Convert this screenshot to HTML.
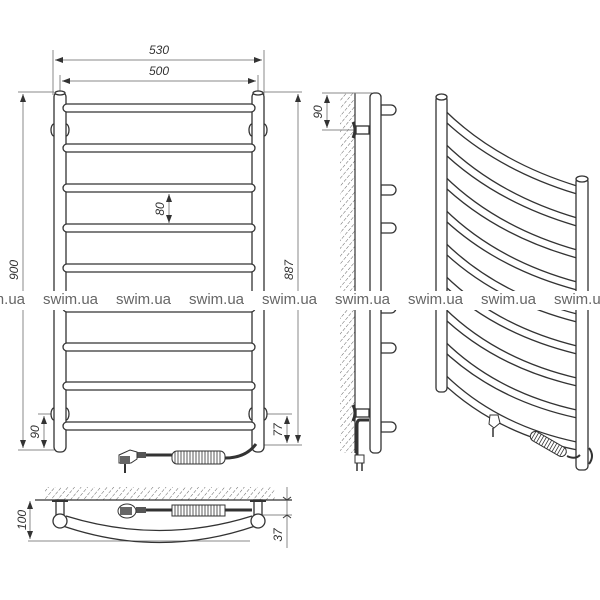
<!DOCTYPE html>
<html><head><meta charset="utf-8"><style>
html,body{margin:0;padding:0;background:#fff;}
svg{display:block;}
text{font-family:"Liberation Sans",sans-serif;}
.d{stroke:#888;stroke-width:1;fill:none;}
.dt{font-size:12px;fill:#333;font-style:italic;}
.o{stroke:#333;stroke-width:1.3;fill:#fff;}
.w{font-size:15px;fill:#666;}
</style></head><body>
<svg width="600" height="600" viewBox="0 0 600 600" xmlns="http://www.w3.org/2000/svg">
<defs>
<marker id="a" markerWidth="8" markerHeight="6" refX="8" refY="3" orient="auto-start-reverse" markerUnits="userSpaceOnUse"><path d="M0,0 L8,3 L0,6z" fill="#333"/></marker>
<pattern id="h" width="5" height="5" patternUnits="userSpaceOnUse" patternTransform="rotate(40)"><line x1="0" y1="0" x2="0" y2="5" stroke="#666" stroke-width="1" stroke-dasharray="3,1.5"/></pattern>
</defs>

<!-- FRONT VIEW -->
<line class="d" x1="53" y1="50" x2="53" y2="95"/><line class="d" x1="264" y1="50" x2="264" y2="95"/>
<line class="d" x1="55" y1="60" x2="262" y2="60" marker-start="url(#a)" marker-end="url(#a)"/>
<text class="dt" x="159" y="54" text-anchor="middle">530</text>
<line class="d" x1="60" y1="75" x2="60" y2="95"/><line class="d" x1="258" y1="75" x2="258" y2="95"/>
<line class="d" x1="62" y1="81" x2="256" y2="81" marker-start="url(#a)" marker-end="url(#a)"/>
<text class="dt" x="159" y="75" text-anchor="middle">500</text>
<line class="d" x1="18" y1="92" x2="54" y2="92"/><line class="d" x1="18" y1="450" x2="54" y2="450"/>
<line class="d" x1="23" y1="94" x2="23" y2="448" marker-start="url(#a)" marker-end="url(#a)"/>
<text class="dt" transform="translate(18,270) rotate(-90)" text-anchor="middle">900</text>
<line class="d" x1="264" y1="92" x2="302" y2="92"/><line class="d" x1="264" y1="445" x2="302" y2="445"/>
<line class="d" x1="298" y1="94" x2="298" y2="443" marker-start="url(#a)" marker-end="url(#a)"/>
<text class="dt" transform="translate(293,270) rotate(-90)" text-anchor="middle">887</text>
<line class="d" x1="38" y1="414" x2="54" y2="414"/>
<line class="d" x1="44" y1="416" x2="44" y2="448" marker-start="url(#a)" marker-end="url(#a)"/>
<text class="dt" transform="translate(39,432) rotate(-90)" text-anchor="middle">90</text>
<line class="d" x1="264" y1="414" x2="292" y2="414"/>
<line class="d" x1="287" y1="416" x2="287" y2="443" marker-start="url(#a)" marker-end="url(#a)"/>
<text class="dt" transform="translate(282,430) rotate(-90)" text-anchor="middle">77</text>
<line class="d" x1="169" y1="194" x2="169" y2="223" marker-start="url(#a)" marker-end="url(#a)" stroke="#333"/>
<text class="dt" transform="translate(164,209) rotate(-90)" text-anchor="middle">80</text>
<ellipse class="o" cx="54" cy="130" rx="3" ry="6"/><ellipse class="o" cx="66" cy="130" rx="3" ry="6"/>
<ellipse class="o" cx="252" cy="130" rx="3" ry="6"/><ellipse class="o" cx="264" cy="130" rx="3" ry="6"/>
<ellipse class="o" cx="54" cy="414" rx="3" ry="6"/><ellipse class="o" cx="66" cy="414" rx="3" ry="6"/>
<ellipse class="o" cx="252" cy="414" rx="3" ry="6"/><ellipse class="o" cx="264" cy="414" rx="3" ry="6"/>
<rect class="o" x="54" y="92" width="12" height="360" rx="5"/>
<rect class="o" x="252" y="92" width="12" height="360" rx="5"/>
<ellipse class="o" cx="60" cy="93" rx="5" ry="2"/><ellipse class="o" cx="258" cy="93" rx="5" ry="2"/>
<g class="o">
<rect x="63" y="104" width="192" height="8" rx="4"/>
<rect x="63" y="144" width="192" height="8" rx="4"/>
<rect x="63" y="184" width="192" height="8" rx="4"/>
<rect x="63" y="224" width="192" height="8" rx="4"/>
<rect x="63" y="264" width="192" height="8" rx="4"/>
<rect x="63" y="304" width="192" height="8" rx="4"/>
<rect x="63" y="343" width="192" height="8" rx="4"/>
<rect x="63" y="382" width="192" height="8" rx="4"/>
<rect x="63" y="422" width="192" height="8" rx="4"/>
</g>
<path d="M145,455 L172,455" stroke="#333" stroke-width="3" fill="none"/>
<path d="M225,458 C240,458 250,452 256,444" stroke="#333" stroke-width="3" fill="none"/>
<rect x="172" y="451" width="53" height="13" rx="5" fill="#fff" stroke="#333"/>
<path d="M175,451 l0,13 M178,451 l0,13 M181,451 l0,13 M184,451 l0,13 M187,451 l0,13 M190,451 l0,13 M193,451 l0,13 M196,451 l0,13 M199,451 l0,13 M202,451 l0,13 M205,451 l0,13 M208,451 l0,13 M211,451 l0,13 M214,451 l0,13 M217,451 l0,13 M220,451 l0,13" stroke="#333" stroke-width="0.8"/>
<rect x="136" y="452" width="10" height="6" fill="#555"/>
<path d="M119,455 L130,450 L137,452 L137,459 L131,463 L119,463z" fill="#fff" stroke="#333"/>
<rect x="120" y="456" width="10" height="8" fill="#666"/>
<line x1="125" y1="464" x2="125" y2="473" stroke="#333" stroke-width="2"/>

<!-- BOTTOM VIEW -->
<rect x="45" y="487" width="230" height="13" fill="url(#h)"/>
<line x1="35" y1="500" x2="292" y2="500" stroke="#333" stroke-width="1.2"/>
<line class="d" x1="30" y1="501" x2="30" y2="539" marker-start="url(#a)" marker-end="url(#a)"/>
<line class="d" x1="28" y1="541" x2="250" y2="541"/>
<text class="dt" transform="translate(26,520) rotate(-90)" text-anchor="middle">100</text>
<line class="d" x1="287" y1="487" x2="287" y2="548"/>
<line class="d" x1="262" y1="515" x2="292" y2="515"/>
<path d="M283,497 l4,3 l4,-3 M283,518 l4,-3 l4,3" stroke="#333" fill="none"/>
<text class="dt" transform="translate(282,535) rotate(-90)" text-anchor="middle">37</text>
<path d="M60,525 Q160,560 258,525" stroke="#333" stroke-width="1.3" fill="none"/>
<path d="M66,516 Q160,545 252,516" stroke="#333" stroke-width="1.3" fill="none"/>
<rect class="o" x="56" y="500" width="8" height="15"/><rect class="o" x="254" y="500" width="8" height="15"/>
<line x1="52" y1="501" x2="68" y2="501" stroke="#333" stroke-width="2"/><line x1="250" y1="501" x2="266" y2="501" stroke="#333" stroke-width="2"/>
<circle class="o" cx="60" cy="521" r="7"/><circle class="o" cx="258" cy="521" r="7"/>
<path d="M145,510 L252,510" stroke="#333" stroke-width="3" fill="none"/>
<rect x="172" y="505" width="53" height="11" fill="#fff" stroke="#333"/>
<path d="M175,505 l0,11 M178,505 l0,11 M181,505 l0,11 M184,505 l0,11 M187,505 l0,11 M190,505 l0,11 M193,505 l0,11 M196,505 l0,11 M199,505 l0,11 M202,505 l0,11 M205,505 l0,11 M208,505 l0,11 M211,505 l0,11 M214,505 l0,11 M217,505 l0,11 M220,505 l0,11" stroke="#333" stroke-width="0.8"/>
<rect x="136" y="507" width="10" height="6" fill="#555"/>
<ellipse cx="127" cy="511" rx="9" ry="7" fill="#fff" stroke="#333"/>
<rect x="120" y="507" width="12" height="8" fill="#666"/>

<!-- SIDE VIEW -->
<rect x="340" y="93" width="15" height="360" fill="url(#h)"/>
<line x1="355" y1="93" x2="355" y2="453" stroke="#333" stroke-width="1.2"/>
<line class="d" x1="322" y1="93" x2="372" y2="93"/><line class="d" x1="322" y1="130" x2="356" y2="130"/>
<line class="d" x1="327" y1="95" x2="327" y2="128" marker-start="url(#a)" marker-end="url(#a)"/>
<text class="dt" transform="translate(322,112) rotate(-90)" text-anchor="middle">90</text>
<g class="o">
<path d="M381,105 L391,105 A5,5 0 0 1 391,115 L381,115z"/>
<path d="M381,185 L391,185 A5,5 0 0 1 391,195 L381,195z"/>
<path d="M381,223 L391,223 A5,5 0 0 1 391,233 L381,233z"/>
<path d="M381,303 L391,303 A5,5 0 0 1 391,313 L381,313z"/>
<path d="M381,343 L391,343 A5,5 0 0 1 391,353 L381,353z"/>
<path d="M381,422 L391,422 A5,5 0 0 1 391,432 L381,432z"/>
<rect x="356" y="126" width="13" height="8"/>
<rect x="356" y="409" width="13" height="8"/>
<rect x="370" y="93" width="11" height="360" rx="4"/>
</g>
<path d="M353,122 q4,8 0,16 M353,405 q4,8 0,16" stroke="#333" stroke-width="3" fill="none"/>
<path d="M369,420 L360,420 Q357,420 357,425 L357,455" stroke="#333" stroke-width="3" fill="none"/>
<path d="M355,455 l9,0 l0,8 l-9,0z" fill="#fff" stroke="#333"/>
<path d="M357,463 l0,8 M362,463 l0,8" stroke="#333" stroke-width="1.5"/>

<!-- PERSPECTIVE VIEW -->
<g fill="none" stroke-linecap="round">
<g stroke="#333" stroke-width="9">
<path d="M442,113 Q495,165 577,190"/>
<path d="M442,146 Q495,198 577,222"/>
<path d="M442,179 Q495,231 577,254"/>
<path d="M442,212 Q495,264 577,286"/>
<path d="M442,245 Q495,297 577,318"/>
<path d="M442,278 Q495,330 577,350"/>
<path d="M442,311 Q495,363 577,382"/>
<path d="M442,344 Q495,396 577,414"/>
<path d="M442,377 Q495,429 577,446"/>
</g>
<g stroke="#fff" stroke-width="6.4">
<path d="M442,113 Q495,165 577,190"/>
<path d="M442,146 Q495,198 577,222"/>
<path d="M442,179 Q495,231 577,254"/>
<path d="M442,212 Q495,264 577,286"/>
<path d="M442,245 Q495,297 577,318"/>
<path d="M442,278 Q495,330 577,350"/>
<path d="M442,311 Q495,363 577,382"/>
<path d="M442,344 Q495,396 577,414"/>
<path d="M442,377 Q495,429 577,446"/>
</g>
</g>
<rect class="o" x="436" y="96" width="11" height="296" rx="4"/>
<ellipse class="o" cx="441.5" cy="97" rx="5.5" ry="3"/>
<rect class="o" x="576" y="178" width="12" height="292" rx="4"/>
<ellipse class="o" cx="582" cy="179" rx="6" ry="3"/>
<g transform="translate(531,434) rotate(30)">
<rect x="0" y="-5" width="40" height="10" rx="5" fill="#fff" stroke="#333"/>
<path d="M3,-5 l0,10 M6,-5 l0,10 M9,-5 l0,10 M12,-5 l0,10 M15,-5 l0,10 M18,-5 l0,10 M21,-5 l0,10 M24,-5 l0,10 M27,-5 l0,10 M30,-5 l0,10 M33,-5 l0,10 M36,-5 l0,10" stroke="#333" stroke-width="0.8"/>
</g>
<path d="M567,456 Q575,460 580,455" stroke="#333" stroke-width="2" fill="none"/>
<path d="M589,448 q6,8 0,16" stroke="#333" stroke-width="2" fill="none"/>
<path d="M490,415 l8,0 l2,8 l-6,5 l-5,-4z" fill="#fff" stroke="#333"/>
<line x1="493" y1="428" x2="493" y2="437" stroke="#333" stroke-width="1.5"/>

<!-- watermark -->
<rect x="0" y="291" width="600" height="19" fill="#fff"/>
<g class="w">
<text x="-30" y="304">swim.ua</text><text x="43" y="304">swim.ua</text><text x="116" y="304">swim.ua</text><text x="189" y="304">swim.ua</text><text x="262" y="304">swim.ua</text><text x="335" y="304">swim.ua</text><text x="408" y="304">swim.ua</text><text x="481" y="304">swim.ua</text><text x="554" y="304">swim.ua</text>
</g>
</svg>
</body></html>
